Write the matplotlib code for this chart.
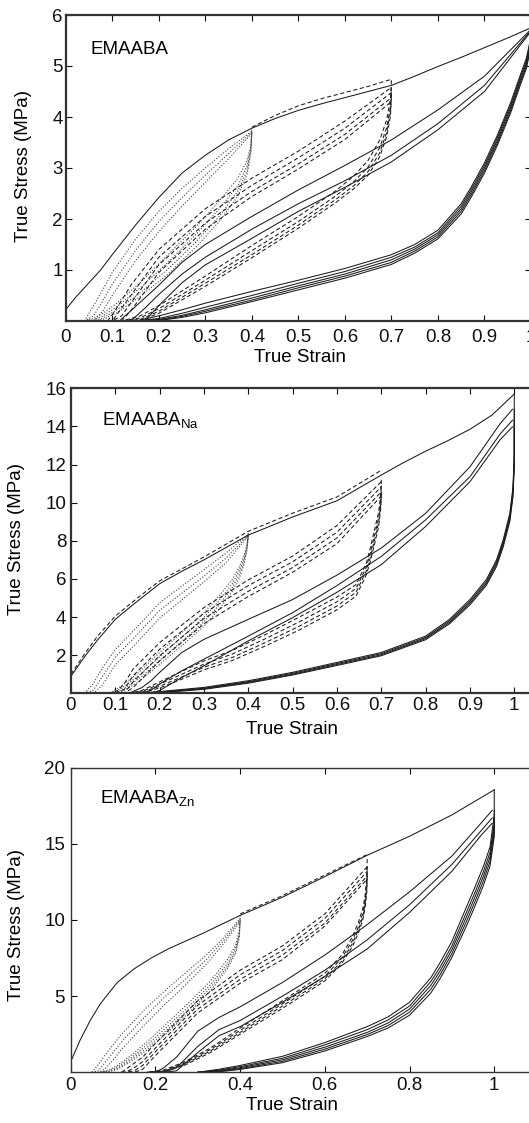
import matplotlib.pyplot as plt

plt.rcParams['font.family'] = ['Liberation Sans', 'DejaVu Sans']
plt.rcParams['mathtext.fontset'] = 'custom'
plt.rcParams['mathtext.rm'] = 'Liberation Sans'

# ---------------- panel 1: EMAABA ----------------
p1_virgin_x = [0, 0.02, 0.05, 0.075, 0.1, 0.15, 0.2, 0.25, 0.3, 0.35, 0.4, 0.45, 0.5,
               0.55, 0.6, 0.65, 0.7, 0.75, 0.8, 0.85, 0.9, 0.95, 1.0]
p1_virgin_y = [0.22, 0.45, 0.75, 1.0, 1.3, 1.88, 2.42, 2.9, 3.25, 3.55, 3.78, 3.97, 4.13,
               4.26, 4.38, 4.5, 4.62, 4.8, 4.99, 5.17, 5.36, 5.55, 5.75]
p1_top_x = [0.4, 0.45, 0.5, 0.55, 0.6, 0.65, 0.7]
p1_top_y = [3.8, 4.03, 4.22, 4.36, 4.48, 4.6, 4.74]

p1_dot_load_x = [0.04, 0.06, 0.08, 0.1, 0.15, 0.2, 0.25, 0.3, 0.35, 0.4]
p1_dot_load_y = [[0, 0.3, 0.62, 0.95, 1.6, 2.15, 2.6, 3.0, 3.38, 3.72],
                 [0, 0.1, 0.4, 0.72, 1.38, 1.95, 2.42, 2.86, 3.28, 3.7],
                 [0, 0, 0.2, 0.5, 1.18, 1.75, 2.25, 2.72, 3.18, 3.68]]
p1_dot_unload_x = [0.4, 0.398, 0.39, 0.37, 0.33, 0.28, 0.22, 0.16, 0.11, 0.08, 0.06, 0.04]
p1_dot_unload_y = [[3.75, 3.45, 3.15, 2.8, 2.35, 1.85, 1.3, 0.75, 0.35, 0.15, 0.05, 0],
                   [3.72, 3.4, 3.05, 2.65, 2.2, 1.7, 1.15, 0.65, 0.28, 0.1, 0.02, 0],
                   [3.7, 3.35, 2.95, 2.55, 2.05, 1.55, 1.02, 0.55, 0.22, 0.06, 0, 0],
                   [3.68, 3.3, 2.88, 2.45, 1.95, 1.45, 0.92, 0.48, 0.16, 0.03, 0, 0]]

p1_dash_load_x = [0.09, 0.1, 0.12, 0.14, 0.2, 0.3, 0.4, 0.5, 0.6, 0.7]
p1_dash_load_y = [[0, 0.12, 0.4, 0.7, 1.4, 2.2, 2.8, 3.33, 3.92, 4.58],
                  [0, 0, 0.25, 0.5, 1.25, 2.05, 2.66, 3.2, 3.78, 4.48],
                  [0, 0, 0.1, 0.35, 1.1, 1.92, 2.54, 3.08, 3.66, 4.38],
                  [0, 0, 0, 0.2, 0.95, 1.8, 2.44, 2.98, 3.56, 4.3]]
p1_dash_unload_x = [0.7, 0.698, 0.69, 0.675, 0.65, 0.62, 0.58, 0.5, 0.4, 0.3, 0.2, 0.16, 0.12]
p1_dash_unload_y = [[4.72, 4.35, 3.95, 3.55, 3.15, 2.85, 2.55, 2.05, 1.48, 0.88, 0.3, 0.1, 0],
                    [4.58, 4.2, 3.8, 3.4, 3.02, 2.74, 2.45, 1.95, 1.38, 0.8, 0.24, 0.06, 0],
                    [4.48, 4.1, 3.7, 3.3, 2.93, 2.66, 2.38, 1.88, 1.3, 0.74, 0.19, 0.03, 0],
                    [4.4, 4.02, 3.62, 3.22, 2.86, 2.6, 2.32, 1.82, 1.24, 0.68, 0.15, 0.01, 0]]

p1_solid_load_x = [0.115, 0.14, 0.17, 0.2, 0.25, 0.3, 0.4, 0.5, 0.6, 0.7, 0.8, 0.9, 1.0]
p1_solid_load_y = [[0, 0.2, 0.45, 0.7, 1.15, 1.5, 2.05, 2.57, 3.05, 3.55, 4.14, 4.8, 5.72],
                   [0, 0, 0.25, 0.52, 0.92, 1.25, 1.8, 2.3, 2.75, 3.25, 3.87, 4.62, 5.7],
                   [0, 0, 0, 0.3, 0.75, 1.1, 1.62, 2.15, 2.62, 3.12, 3.75, 4.5, 5.68]]
p1_solid_unload_x = [1.0, 0.997, 0.99, 0.978, 0.957, 0.928, 0.9, 0.871, 0.85, 0.8, 0.75, 0.7,
                     0.6, 0.5, 0.4, 0.3, 0.25, 0.2, 0.15]
p1_solid_unload_y = [[5.74, 5.45, 5.15, 4.85, 4.3, 3.65, 3.1, 2.62, 2.3, 1.78, 1.5, 1.3, 1.03, 0.8, 0.58, 0.35, 0.22, 0.1, 0],
                     [5.72, 5.4, 5.1, 4.8, 4.25, 3.6, 3.05, 2.57, 2.25, 1.73, 1.45, 1.25, 0.97, 0.74, 0.5, 0.27, 0.15, 0.05, 0],
                     [5.7, 5.35, 5.05, 4.75, 4.2, 3.55, 3.0, 2.52, 2.2, 1.69, 1.41, 1.2, 0.92, 0.69, 0.45, 0.22, 0.11, 0.03, 0],
                     [5.7, 5.3, 5.0, 4.7, 4.15, 3.5, 2.95, 2.47, 2.15, 1.65, 1.37, 1.15, 0.88, 0.65, 0.41, 0.19, 0.09, 0.02, 0],
                     [5.68, 5.25, 4.95, 4.65, 4.1, 3.45, 2.9, 2.42, 2.1, 1.61, 1.33, 1.11, 0.84, 0.61, 0.38, 0.16, 0.07, 0.01, 0]]

# ---------------- panel 2: EMAABA Na ----------------
p2_virgin_x = [0, 0.03, 0.06, 0.1, 0.14, 0.2, 0.25, 0.3, 0.35, 0.4, 0.5, 0.6, 0.7,
               0.75, 0.8, 0.85, 0.9, 0.95, 1.0]
p2_virgin_y = [0.9, 1.9, 2.8, 3.88, 4.65, 5.75, 6.4, 7.0, 7.65, 8.3, 9.25, 10.1, 11.45,
               12.1, 12.7, 13.25, 13.85, 14.6, 15.7]
p2_top_x = [0, 0.03, 0.06, 0.1, 0.15, 0.2, 0.3, 0.4, 0.5, 0.6, 0.7]
p2_top_y = [1.0, 2.05, 3.0, 4.05, 5.0, 5.9, 7.15, 8.5, 9.45, 10.3, 11.7]

p2_dot_load_x = [0.03, 0.05, 0.07, 0.1, 0.14, 0.2, 0.25, 0.3, 0.35, 0.4]
p2_dot_load_y = [[0, 0.5, 1.3, 2.3, 3.25, 4.75, 5.62, 6.49, 7.36, 8.35],
                 [0, 0.15, 0.85, 1.9, 2.85, 4.35, 5.25, 6.15, 7.1, 8.3],
                 [0, 0, 0.4, 1.5, 2.45, 3.95, 4.9, 5.85, 6.85, 8.25]]
p2_dot_unload_x = [0.4, 0.397, 0.39, 0.38, 0.364, 0.334, 0.3, 0.25, 0.2, 0.153, 0.115, 0.09, 0.06]
p2_dot_unload_y = [[8.4, 7.8, 7.2, 6.66, 5.97, 5.1, 4.23, 3.18, 2.14, 1.1, 0.4, 0.05, 0],
                   [8.35, 7.7, 7.05, 6.45, 5.75, 4.85, 3.98, 2.95, 1.92, 0.92, 0.28, 0.01, 0],
                   [8.3, 7.6, 6.9, 6.25, 5.55, 4.62, 3.75, 2.72, 1.72, 0.76, 0.18, 0, 0],
                   [8.25, 7.5, 6.75, 6.05, 5.35, 4.4, 3.52, 2.5, 1.52, 0.6, 0.1, 0, 0]]

p2_dash_load_x = [0.1, 0.12, 0.14, 0.2, 0.3, 0.4, 0.5, 0.6, 0.7]
p2_dash_load_y = [[0, 0.5, 1.27, 2.66, 4.5, 5.95, 7.2, 8.8, 11.1],
                  [0, 0.2, 0.92, 2.31, 4.2, 5.65, 6.9, 8.45, 10.83],
                  [0, 0, 0.6, 1.97, 3.92, 5.35, 6.6, 8.15, 10.57],
                  [0, 0, 0.3, 1.7, 3.65, 5.08, 6.35, 7.85, 10.35]]
p2_dash_unload_x = [0.7, 0.699, 0.694, 0.685, 0.675, 0.666, 0.643, 0.6, 0.515, 0.44, 0.364,
                    0.3, 0.25, 0.2, 0.16, 0.13]
p2_dash_unload_y = [[11.2, 10.5, 9.5, 8.6, 7.6, 6.8, 5.7, 5.05, 4.0, 3.1, 2.25, 1.7, 1.15, 0.6, 0.15, 0],
                    [10.9, 10.2, 9.2, 8.3, 7.35, 6.6, 5.5, 4.8, 3.75, 2.88, 2.06, 1.53, 1.0, 0.48, 0.1, 0],
                    [10.65, 9.95, 8.95, 8.05, 7.1, 6.4, 5.3, 4.58, 3.52, 2.68, 1.88, 1.37, 0.86, 0.37, 0.06, 0],
                    [10.45, 9.75, 8.75, 7.85, 6.9, 6.2, 5.1, 4.38, 3.32, 2.5, 1.72, 1.23, 0.74, 0.28, 0.03, 0]]

p2_solid_load_x = [0.13, 0.16, 0.18, 0.2, 0.25, 0.3, 0.4, 0.5, 0.6, 0.7, 0.8, 0.9, 0.968, 0.996]
p2_solid_load_y = [[0, 0.3, 0.65, 1.1, 2.14, 2.83, 3.88, 4.92, 6.2, 7.62, 9.44, 11.88, 14.14, 14.9],
                   [0, 0, 0.15, 0.49, 1.18, 1.79, 3.0, 4.23, 5.65, 7.18, 9.1, 11.36, 13.6, 14.33],
                   [0, 0, 0, 0.15, 0.83, 1.44, 2.75, 3.97, 5.3, 6.75, 8.75, 11.1, 13.3, 13.98]]
p2_solid_unload_x = [1.0, 1.0, 0.997, 0.99, 0.975, 0.96, 0.937, 0.9, 0.854, 0.8, 0.7, 0.6,
                     0.5, 0.4, 0.3, 0.2, 0.14]
p2_solid_unload_y = [[15.7, 12.5, 10.8, 9.44, 8.05, 7.0, 5.97, 4.92, 3.88, 3.0, 2.14, 1.62, 1.1, 0.66, 0.31, 0.09, 0],
                     [14.9, 12.3, 10.6, 9.3, 7.92, 6.88, 5.86, 4.82, 3.8, 2.93, 2.08, 1.56, 1.05, 0.61, 0.27, 0.06, 0],
                     [14.33, 12.1, 10.45, 9.15, 7.8, 6.77, 5.76, 4.73, 3.72, 2.87, 2.02, 1.51, 1.0, 0.57, 0.24, 0.04, 0],
                     [13.98, 11.9, 10.3, 9.02, 7.68, 6.66, 5.66, 4.64, 3.65, 2.81, 1.97, 1.46, 0.96, 0.53, 0.21, 0.03, 0]]

# ---------------- panel 3: EMAABA Zn ----------------
p3_virgin_x = [0, 0.022, 0.046, 0.07, 0.11, 0.15, 0.19, 0.23, 0.31, 0.4, 0.5, 0.6, 0.7,
               0.8, 0.9, 1.0]
p3_virgin_y = [0.7, 2.1, 3.4, 4.5, 5.9, 6.8, 7.5, 8.1, 9.1, 10.3, 11.5, 12.85, 14.25,
               15.5, 16.9, 18.55]
p3_top_x = [0.4, 0.5, 0.6, 0.7]
p3_top_y = [10.4, 11.6, 12.95, 14.3]

p3_dot_load_x = [0.05, 0.065, 0.08, 0.1, 0.12, 0.17, 0.22, 0.27, 0.32, 0.36, 0.4]
p3_dot_load_y = [[0, 0.5, 1.1, 1.8, 2.5, 4.0, 5.3, 6.5, 7.7, 8.8, 10.1],
                 [0, 0.1, 0.6, 1.3, 2.0, 3.5, 4.9, 6.1, 7.4, 8.6, 10.0],
                 [0, 0, 0.2, 0.8, 1.5, 3.0, 4.4, 5.7, 7.1, 8.4, 9.9]]
p3_dot_unload_x = [0.4, 0.398, 0.39, 0.37, 0.33, 0.28, 0.23, 0.18, 0.14, 0.11, 0.09, 0.07]
p3_dot_unload_y = [[10.3, 9.3, 8.4, 7.4, 6.0, 4.6, 3.3, 2.0, 1.05, 0.45, 0.15, 0],
                   [10.1, 9.1, 8.2, 7.15, 5.75, 4.35, 3.05, 1.8, 0.9, 0.35, 0.08, 0],
                   [10.0, 9.0, 8.0, 6.95, 5.55, 4.15, 2.85, 1.62, 0.78, 0.26, 0.04, 0],
                   [9.9, 8.9, 7.85, 6.8, 5.35, 3.95, 2.65, 1.46, 0.66, 0.2, 0.02, 0]]

p3_dash_load_x = [0.12, 0.13, 0.15, 0.17, 0.2, 0.25, 0.3, 0.4, 0.5, 0.6, 0.7]
p3_dash_load_y = [[0, 0.2, 0.6, 1.0, 1.9, 3.3, 4.7, 6.7, 8.3, 10.4, 13.5],
                  [0, 0, 0.3, 0.7, 1.6, 3.0, 4.4, 6.4, 8.0, 10.1, 13.2],
                  [0, 0, 0.1, 0.45, 1.35, 2.75, 4.15, 6.1, 7.7, 9.8, 12.9],
                  [0, 0, 0, 0.2, 1.1, 2.5, 3.9, 5.85, 7.4, 9.6, 12.7]]
p3_dash_unload_x = [0.7, 0.699, 0.695, 0.69, 0.68, 0.665, 0.64, 0.6, 0.5, 0.4, 0.33, 0.27, 0.22, 0.18]
p3_dash_unload_y = [[14.0, 12.8, 11.6, 10.8, 9.9, 8.9, 7.7, 6.5, 4.7, 2.9, 1.6, 0.7, 0.15, 0],
                    [13.5, 12.4, 11.3, 10.5, 9.6, 8.65, 7.5, 6.3, 4.5, 2.75, 1.5, 0.62, 0.1, 0],
                    [13.2, 12.1, 11.0, 10.25, 9.4, 8.45, 7.3, 6.15, 4.35, 2.62, 1.4, 0.55, 0.07, 0],
                    [12.9, 11.8, 10.8, 10.05, 9.2, 8.25, 7.15, 6.0, 4.2, 2.5, 1.3, 0.48, 0.04, 0]]

p3_solid_load_x = [0.2, 0.22, 0.25, 0.3, 0.35, 0.4, 0.5, 0.6, 0.7, 0.8, 0.9, 0.97, 0.995]
p3_solid_load_y = [[0, 0.3, 1.0, 2.7, 3.6, 4.3, 5.9, 7.7, 9.7, 11.85, 14.2, 16.4, 17.2],
                   [0, 0, 0.3, 1.7, 2.8, 3.4, 5.0, 6.7, 8.7, 11.0, 13.65, 15.9, 16.7],
                   [0, 0, 0.1, 1.3, 2.4, 3.0, 4.6, 6.3, 8.1, 10.5, 13.2, 15.6, 16.35]]
p3_solid_unload_x = [1.0, 1.0, 0.998, 0.99, 0.974, 0.955, 0.935, 0.9, 0.872, 0.85, 0.8, 0.75,
                     0.7, 0.6, 0.5, 0.4, 0.35, 0.3]
p3_solid_unload_y = [[18.55, 17.0, 16.5, 14.8, 13.5, 12.2, 10.9, 8.6, 7.2, 6.2, 4.6, 3.65, 3.0, 1.95, 1.05, 0.45, 0.2, 0],
                     [17.2, 16.3, 16.0, 14.45, 13.15, 11.85, 10.55, 8.3, 6.9, 5.95, 4.35, 3.45, 2.8, 1.8, 0.92, 0.37, 0.14, 0],
                     [16.7, 16.0, 15.7, 14.15, 12.85, 11.55, 10.25, 8.05, 6.65, 5.7, 4.15, 3.25, 2.62, 1.65, 0.82, 0.3, 0.1, 0],
                     [16.35, 15.7, 15.4, 13.85, 12.55, 11.25, 9.95, 7.8, 6.4, 5.45, 3.95, 3.08, 2.48, 1.52, 0.72, 0.24, 0.06, 0],
                     [16.2, 15.5, 15.1, 13.55, 12.25, 10.95, 9.65, 7.55, 6.15, 5.2, 3.75, 2.92, 2.35, 1.4, 0.63, 0.19, 0.03, 0]]

LW = 0.75
INK = '#1a1a1a'


def draw_panel(ax, virgin_x, virgin_y, top_x, top_y,
               dot_load, dot_unload, dash_load, dash_unload, solid_load, solid_unload):
    # dotted cycles (max strain 0.4)
    for xs, ys_list in (dot_load, dot_unload):
        for ys in ys_list:
            ax.plot(xs, ys, color='#444444', lw=0.8, linestyle=(0, (1, 1.6)))
    # dashed cycles (max strain 0.7)
    for xs, ys_list in (dash_load, dash_unload):
        for ys in ys_list:
            ax.plot(xs, ys, color=INK, lw=LW, linestyle=(0, (4, 2.5)))
    ax.plot(top_x, top_y, color=INK, lw=LW, linestyle=(0, (4, 2.5)))
    # solid cycles (max strain 1.0)
    for xs, ys_list in (solid_load, solid_unload):
        for ys in ys_list:
            ax.plot(xs, ys, color=INK, lw=LW)
    ax.plot(virgin_x, virgin_y, color=INK, lw=LW)


def style_axes(ax, xlim, ylim, xticks, yticks, spine_w, xpad, ypad):
    ax.set_xlim(*xlim)
    ax.set_ylim(*ylim)
    ax.set_xticks(xticks)
    ax.set_xticklabels(['0' if t == 0 else f'{t:g}' for t in xticks])
    ax.set_yticks(yticks)
    ax.set_yticklabels([f'{t:g}' for t in yticks])
    ax.tick_params(direction='in', length=4, width=0.8, top=True, right=True,
                   labelsize=13.5, colors='#111111')
    ax.tick_params(axis='x', pad=xpad)
    ax.tick_params(axis='y', pad=ypad)
    for s in ax.spines.values():
        s.set_linewidth(spine_w)
        s.set_color('#333333')


W, H = 529, 1123
fig = plt.figure(figsize=(W / 100, H / 100), dpi=100)

ax1 = fig.add_axes([65.7 / W, 1 - 321 / H, (531 - 65.7) / W, 306 / H])
ax2 = fig.add_axes([71 / W, 1 - 693.3 / H, 487.6 / W, 305 / H])
ax3 = fig.add_axes([70.7 / W, 1 - 1072.3 / H, 508.3 / W, 304.6 / H])

draw_panel(ax1, p1_virgin_x, p1_virgin_y, p1_top_x, p1_top_y,
           (p1_dot_load_x, p1_dot_load_y), (p1_dot_unload_x, p1_dot_unload_y),
           (p1_dash_load_x, p1_dash_load_y), (p1_dash_unload_x, p1_dash_unload_y),
           (p1_solid_load_x, p1_solid_load_y), (p1_solid_unload_x, p1_solid_unload_y))
draw_panel(ax2, p2_virgin_x, p2_virgin_y, p2_top_x, p2_top_y,
           (p2_dot_load_x, p2_dot_load_y), (p2_dot_unload_x, p2_dot_unload_y),
           (p2_dash_load_x, p2_dash_load_y), (p2_dash_unload_x, p2_dash_unload_y),
           (p2_solid_load_x, p2_solid_load_y), (p2_solid_unload_x, p2_solid_unload_y))
draw_panel(ax3, p3_virgin_x, p3_virgin_y, p3_top_x, p3_top_y,
           (p3_dot_load_x, p3_dot_load_y), (p3_dot_unload_x, p3_dot_unload_y),
           (p3_dash_load_x, p3_dash_load_y), (p3_dash_unload_x, p3_dash_unload_y),
           (p3_solid_load_x, p3_solid_load_y), (p3_solid_unload_x, p3_solid_unload_y))

style_axes(ax1, (0, 1.0), (0, 6), [0, 0.1, 0.2, 0.3, 0.4, 0.5, 0.6, 0.7, 0.8, 0.9, 1.0],
           [1, 2, 3, 4, 5, 6], 1.6, 5.5, 2.0)
style_axes(ax2, (0, 1.1), (0, 16), [0, 0.1, 0.2, 0.3, 0.4, 0.5, 0.6, 0.7, 0.8, 0.9, 1.0],
           [2, 4, 6, 8, 10, 12, 14, 16], 1.6, 2.5, 3.5)
style_axes(ax3, (0, 1.2), (0, 20), [0, 0.2, 0.4, 0.6, 0.8, 1.0],
           [5, 10, 15, 20], 1.0, 3.5, 4.0)

# panel names
fig.text(90 / W, 1 - 50 / H, 'EMAABA', fontsize=13.5, va='center')
fig.text(102 / W, 1 - 421 / H, r'EMAABA$_{\mathrm{Na}}$', fontsize=13.5, va='center')
fig.text(100 / W, 1 - 799 / H, r'EMAABA$_{\mathrm{Zn}}$', fontsize=13.5, va='center')

# axis labels
for xc, yc in [(299.5, 358), (292.5, 730), (292.5, 1105)]:
    fig.text(xc / W, 1 - yc / H, 'True Strain', fontsize=13.5, ha='center', va='center')
for xc, yc in [(23.6, 166), (16.7, 539), (16.7, 925)]:
    fig.text(xc / W, 1 - yc / H, 'True Stress (MPa)', fontsize=13.5, ha='center',
             va='center', rotation=90)

fig.savefig('out.png', dpi=100)
